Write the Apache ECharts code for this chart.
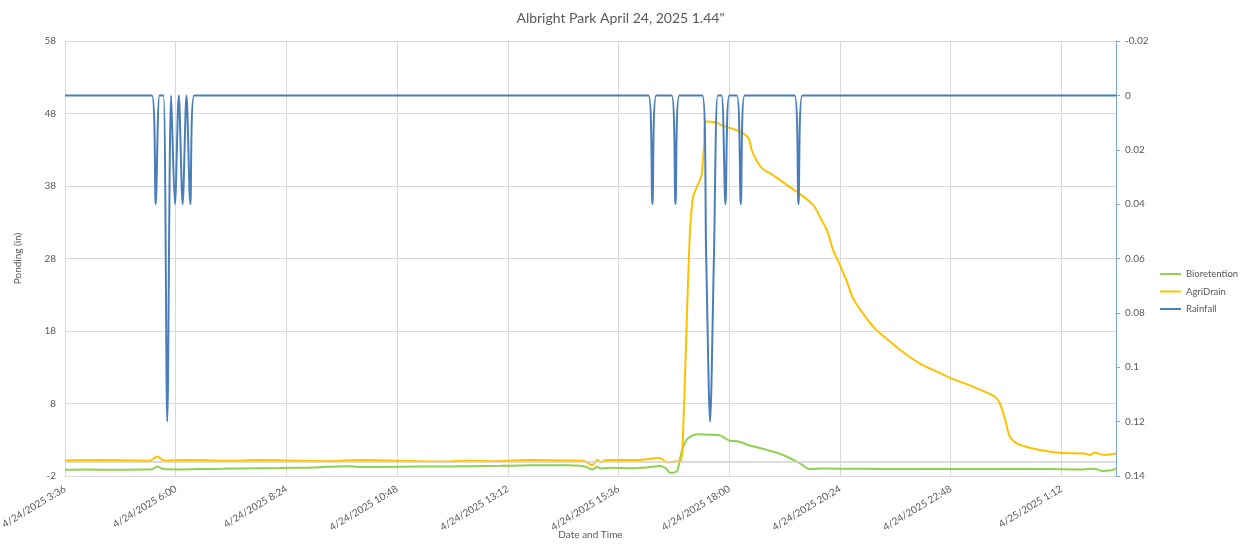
<!DOCTYPE html>
<html>
<head>
<meta charset="utf-8">
<title>Albright Park April 24, 2025</title>
<script src="https://cdn.jsdelivr.net/npm/echarts@6/dist/echarts.min.js"></script>
<style>
  html, body { margin: 0; padding: 0; background: #fff; }
  #chart { width: 1241px; height: 544px; }
</style>
</head>
<body>
<div id="chart"></div>
<script>
// times are minutes after midnight 4/24/2025 (values >= 1440 fall on 4/25)
const bioTimes = [216, 245, 280, 315, 328, 336, 344, 360, 390, 420, 445, 495, 530, 548, 580, 600, 626, 678, 710, 743, 782, 810, 834, 870, 886, 895, 902, 908, 913, 930, 955, 975, 990, 997, 1003, 1012, 1018, 1025, 1038, 1055, 1068, 1075, 1081, 1090, 1107, 1129, 1150, 1172, 1185, 1200, 1224, 1260, 1300, 1350, 1400, 1450, 1500, 1540, 1555, 1565, 1575, 1583]
const bioValues = [-1.15, -1.1, -1.15, -1.1, -1.1, -0.7, -1.05, -1.1, -1.05, -1.0, -0.95, -0.9, -0.85, -0.8, -0.65, -0.75, -0.75, -0.7, -0.7, -0.65, -0.6, -0.55, -0.5, -0.5, -0.6, -0.8, -1.1, -0.75, -0.95, -0.85, -0.94, -0.8, -0.62, -0.9, -1.55, -1.3, 1.35, 3.05, 3.75, 3.7, 3.6, 3.2, 2.85, 2.8, 2.2, 1.6, 0.9, -0.25, -1.05, -0.95, -1.0, -1.0, -1.05, -1.0, -1.05, -1.0, -1.05, -1.1, -1.0, -1.3, -1.25, -1.0]

const agriTimes = [216, 260, 300, 326, 336, 344, 380, 430, 470, 520, 560, 600, 650, 700, 740, 780, 820, 860, 890, 902, 908, 913, 920, 960, 990, 998, 1010, 1017, 1020, 1025, 1029, 1033, 1040, 1044, 1047, 1050, 1064, 1072, 1081, 1094, 1105, 1109, 1116, 1124, 1137, 1150, 1168, 1189, 1200, 1207, 1215, 1224, 1233, 1241, 1254, 1269, 1285, 1306, 1328, 1350, 1368, 1393, 1415, 1426, 1432, 1439, 1445, 1454, 1467, 1484, 1510, 1542, 1549, 1555, 1568, 1583]
const agriValues = [0.15, 0.2, 0.15, 0.1, 0.7, 0.15, 0.2, 0.1, 0.2, 0.1, 0.05, 0.2, 0.1, 0.0, 0.1, 0.05, 0.2, 0.15, 0.1, -0.5, 0.2, -0.1, 0.2, 0.2, 0.5, -0.1, 0.0, 0.1, 4.3, 20.4, 31.9, 36.5, 38.4, 39.5, 43.4, 46.9, 46.7, 46.3, 46.0, 45.5, 44.6, 43.0, 41.4, 40.3, 39.5, 38.5, 37.2, 35.4, 33.3, 31.9, 29.2, 27.1, 24.8, 22.5, 20.4, 18.4, 16.9, 15.1, 13.5, 12.4, 11.5, 10.5, 9.5, 8.9, 8.0, 5.7, 3.4, 2.5, 2.0, 1.6, 1.2, 1.1, 0.9, 1.2, 0.9, 1.1]

const rainTimes = [216, 329, 334, 339, 344, 349, 354, 359, 364, 369, 374, 379, 384, 975, 980, 985, 1005, 1010, 1015, 1045, 1050, 1055, 1060, 1065, 1070, 1075, 1080, 1090, 1095, 1100, 1165, 1170, 1175, 1583]
const rainValues = [0, 0, 0.04, 0, 0, 0.12, 0, 0.04, 0, 0.04, 0, 0.04, 0, 0, 0.04, 0, 0, 0.04, 0, 0, 0.06, 0.12, 0.06, 0, 0, 0.04, 0, 0, 0.04, 0, 0, 0.04, 0, 0]

const seriesNames = ['Bioretention', 'AgriDrain', 'Rainfall']
const xStart = 216 // 4/24/2025 3:36
const xEnd = 1583

const zip = (ts, vs) => ts.map((t, i) => [t, vs[i]])

function timeLabel(value) {
  const day = value >= 1440 ? 25 : 24
  const m = Math.round(value) % 1440
  const mm = String(m % 60).padStart(2, '0')
  return '4/' + day + '/2025 ' + Math.floor(m / 60) + ':' + mm
}

const textColor = '#595959'
const gridColor = '#d9d9d9'
const font = 'Lato, "Liberation Sans", sans-serif'

const chart = echarts.init(document.getElementById('chart'))
chart.setOption({
  animation: false,
  textStyle: { fontFamily: font },
  title: {
    text: 'Albright Park April 24, 2025 1.44"',
    left: 'center',
    top: 6,
    textStyle: { fontSize: 14, fontWeight: 'normal', color: textColor, fontFamily: font }
  },
  legend: {
    data: seriesNames,
    orient: 'vertical',
    left: 1155,
    top: 264,
    icon: 'rect',
    itemWidth: 21,
    itemHeight: 2,
    itemGap: 7.5,
    textStyle: { fontSize: 9.5, color: textColor, fontFamily: font }
  },
  grid: {
    left: 65,
    right: 125,
    top: 41,
    bottom: 68,
    outerBoundsMode: 'none'
  },
  xAxis: {
    type: 'value',
    min: xStart,
    max: xEnd,
    interval: 144,
    name: 'Date and Time',
    nameLocation: 'middle',
    nameGap: 54,
    nameMoveOverlap: false,
    nameTextStyle: { fontSize: 10, color: textColor },
    axisLine: { show: true, onZero: false, lineStyle: { color: gridColor } },
    axisTick: { show: false },
    axisLabel: {
      rotate: 31,
      margin: 12,
      fontSize: 10,
      color: textColor,
      showMaxLabel: false,
      formatter: timeLabel
    },
    splitLine: { show: true, lineStyle: { color: gridColor } }
  },
  yAxis: [
    {
      type: 'value',
      min: -2,
      max: 58,
      interval: 10,
      name: 'Ponding (in)',
      nameLocation: 'middle',
      nameGap: 42,
      nameMoveOverlap: false,
      nameTextStyle: { fontSize: 10, color: textColor },
      axisLine: { show: false },
      axisTick: { show: false },
      axisLabel: { fontSize: 10, color: textColor, margin: 9 },
      splitLine: { lineStyle: { color: gridColor } }
    },
    {
      type: 'value',
      min: -0.02,
      max: 0.14,
      interval: 0.02,
      inverse: true,
      position: 'right',
      axisLine: { show: true, lineStyle: { color: '#7ea6da', width: 1 } },
      axisTick: { show: true, inside: false, length: 4, lineStyle: { color: '#7ea6da' } },
      axisLabel: { fontSize: 10, color: textColor, margin: 9 },
      splitLine: { show: false }
    }
  ],
  series: [
    {
      name: 'Bioretention',
      type: 'line',
      symbol: 'none',
      smooth: 0.3,
      lineStyle: { color: '#92d050', width: 2 },
      itemStyle: { color: '#92d050' },
      data: zip(bioTimes, bioValues),
      markLine: {
        silent: true,
        symbol: 'none',
        label: { show: false },
        lineStyle: { color: '#d0d0d0', type: 'solid', width: 1.5 },
        data: [{ yAxis: 0 }]
      }
    },
    {
      name: 'AgriDrain',
      type: 'line',
      symbol: 'none',
      smooth: 0.3,
      lineStyle: { color: '#ffc000', width: 2 },
      itemStyle: { color: '#ffc000' },
      data: zip(agriTimes, agriValues)
    },
    {
      name: 'Rainfall',
      type: 'line',
      yAxisIndex: 1,
      symbol: 'none',
      smooth: 0.3,
      lineStyle: { color: '#4a7ebb', width: 2 },
      itemStyle: { color: '#4a7ebb' },
      data: zip(rainTimes, rainValues)
    }
  ]
})
</script>
</body>
</html>
